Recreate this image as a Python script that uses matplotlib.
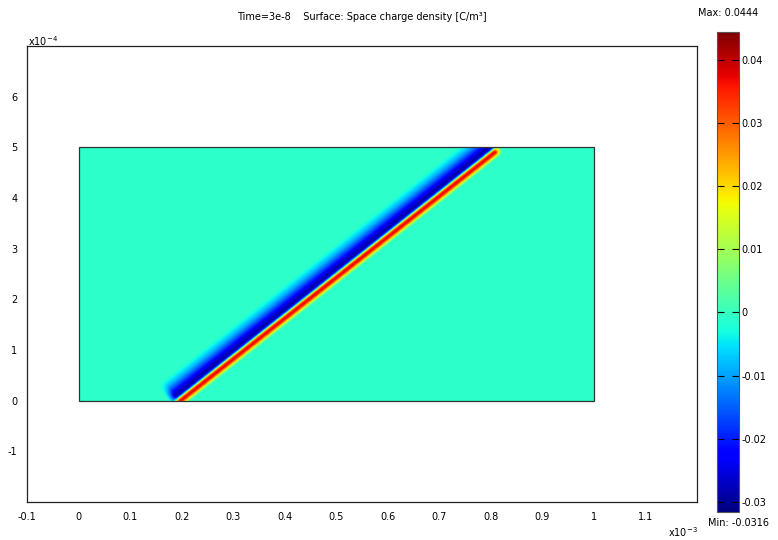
import numpy as np
import matplotlib
matplotlib.use('Agg')
import matplotlib.pyplot as plt
from matplotlib.patches import Rectangle

# ---------------- data ----------------
title = "Time=3e-8    Surface: Space charge density [C/m³]"
vmin, vmax = -0.0316, 0.0444
background_val = -0.001
domain_x = [0.0, 1.0e-3]
domain_y = [0.0, 5.0e-4]
# centre of the positive (red) front, start and end point
front_start = (0.195e-3, 0.0)
front_end = (0.807e-3, 4.92e-4)
# profile across the front: signed distance (m, + toward upper-left) and value
profile_dist = [-13e-6, -9e-6, -6e-6, -2e-6, 2e-6, 5e-6, 7e-6, 10e-6,
                14e-6, 20e-6, 28e-6, 36e-6, 44e-6, 54e-6]
profile_val = [0.0, 0.01, 0.025, 0.038, 0.034, 0.012, -0.01, -0.026,
               -0.029, -0.024, -0.016, -0.009, -0.004, 0.0]
# fade of the front beyond its start / end (along-front distance, m)
fade_start = [-16e-6, 0.0]
fade_end = [0.0, 12e-6]
xticks = [-0.1, 0, 0.1, 0.2, 0.3, 0.4, 0.5, 0.6, 0.7, 0.8, 0.9, 1, 1.1]
xticklabels = ["-0.1", "0", "0.1", "0.2", "0.3", "0.4", "0.5", "0.6", "0.7",
               "0.8", "0.9", "1", "1.1"]
yticks = [-1, 0, 1, 2, 3, 4, 5, 6]
yticklabels = ["-1", "0", "1", "2", "3", "4", "5", "6"]
cbar_ticks = [-0.03, -0.02, -0.01, 0.0, 0.01, 0.02, 0.03, 0.04]
cbar_ticklabels = ["-0.03", "-0.02", "-0.01", "0", "0.01", "0.02", "0.03", "0.04"]

# ---------------- field on the domain ----------------
nx, ny = 600, 300
xs = np.linspace(domain_x[0], domain_x[1], nx)
ys = np.linspace(domain_y[0], domain_y[1], ny)
X, Y = np.meshgrid(xs, ys)
d = np.array(front_end) - np.array(front_start)
L = np.hypot(*d)
t = d / L
nvec = np.array([-t[1], t[0]])  # upper-left normal
RX, RY = X - front_start[0], Y - front_start[1]
s = RX * t[0] + RY * t[1]
n = RX * nvec[0] + RY * nvec[1]
Z = np.interp(n, profile_dist, profile_val, left=0.0, right=0.0)
w = np.interp(s, fade_start, [0.0, 1.0]) * np.interp(s - L, fade_end, [1.0, 0.0])
Z = background_val + (Z - background_val * (Z != 0)) * w

# ---------------- figure ----------------
plt.rcParams['font.family'] = ['DejaVu Sans']
W, H = 778, 540
fig = plt.figure(figsize=(W / 100, H / 100), dpi=100)
fs = 7

ax = fig.add_axes([27 / W, 1 - 502 / H, 670 / W, 456 / H])
im = ax.imshow(Z, origin='lower', cmap='jet', vmin=vmin, vmax=vmax,
               extent=[domain_x[0], domain_x[1], domain_y[0], domain_y[1]],
               aspect='auto', interpolation='bilinear')
ax.add_patch(Rectangle((domain_x[0], domain_y[0]), domain_x[1] - domain_x[0],
                       domain_y[1] - domain_y[0], fill=False,
                       edgecolor='#333333', lw=0.9))
ax.set_xlim(-0.1e-3, 1.2e-3)
ax.set_ylim(-2e-4, 7e-4)
ax.set_xticks([v * 1e-3 for v in xticks])
ax.set_xticklabels(xticklabels)
ax.set_yticks([v * 1e-4 for v in yticks])
ax.set_yticklabels(yticklabels)
ax.tick_params(length=0, labelsize=fs, pad=7)
for sp in ax.spines.values():
    sp.set_linewidth(0.9)
    sp.set_color('#222222')

fig.text(362 / W, 1 - 17 / H, title, ha='center', va='center', fontsize=fs)
fig.text(28 / W, 1 - 41 / H, r"x10$^{-4}$", ha='left', va='center', fontsize=fs)
fig.text(668 / W, 1 - 532 / H, r"x10$^{-3}$", ha='left', va='center', fontsize=fs)

cax = fig.add_axes([717 / W, 1 - 512 / H, 22 / W, 480 / H])
cb = fig.colorbar(im, cax=cax)
cb.set_ticks(cbar_ticks)
cb.set_ticklabels(cbar_ticklabels)
cax.tick_params(direction='in', left=True, right=True, length=5, width=0.8,
                labelsize=fs, pad=2)
cb.outline.set_linewidth(0.8)
cb.outline.set_edgecolor('#555555')
fig.text(728 / W, 1 - 13 / H, "Max: 0.0444", ha='center', va='center', fontsize=fs)
fig.text(738 / W, 1 - 523 / H, "Min: -0.0316", ha='center', va='center', fontsize=fs)

fig.savefig('out.png', dpi=100)
